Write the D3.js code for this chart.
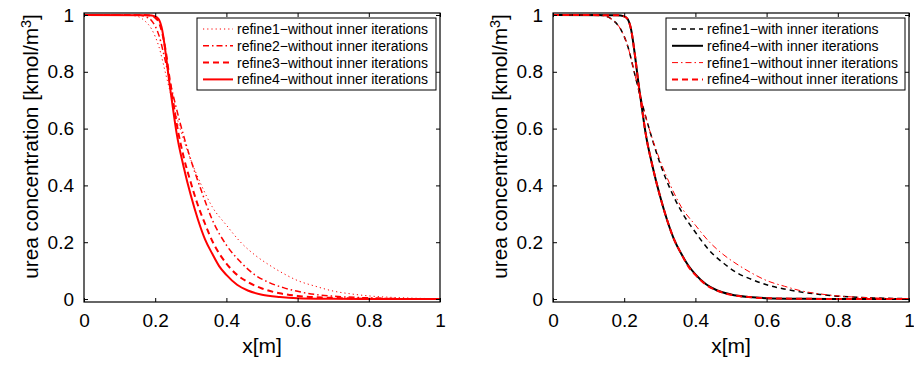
<!DOCTYPE html>
<html>
<head>
<meta charset="utf-8">
<script src="https://cdn.jsdelivr.net/npm/d3@7"></script>
<style>
  body { margin: 0; background: #fff; }
  svg { display: block; font-family: "Liberation Sans", Arial, sans-serif; }
</style>
</head>
<body>
<div id="chart"></div>
<script>
// ── Data ─────────────────────────────────────────────────────
const xTicks = [0, 0.2, 0.4, 0.6, 0.8, 1];
const yTicks = [0, 0.2, 0.4, 0.6, 0.8, 1];

// refine1 (coarse) profiles
const r1X       = [0, 0.12, 0.15, 0.17, 0.19, 0.21, 0.23, 0.25, 0.27, 0.30, 0.33, 0.36, 0.40, 0.44, 0.48, 0.52, 0.56, 0.60, 0.65, 0.70, 0.75, 0.80, 0.90, 1.0];
const r1Without = [1, 1, 0.995, 0.98, 0.95, 0.89, 0.79, 0.69, 0.60, 0.49, 0.40, 0.325, 0.26, 0.20, 0.155, 0.12, 0.09, 0.065, 0.045, 0.028, 0.018, 0.011, 0.004, 0.001];
const r1With    = [1, 1, 0.995, 0.98, 0.95, 0.89, 0.79, 0.69, 0.60, 0.48, 0.385, 0.31, 0.235, 0.17, 0.125, 0.09, 0.068, 0.05, 0.035, 0.024, 0.016, 0.01, 0.004, 0.001];

// refine2
const r2X       = [0, 0.15, 0.17, 0.19, 0.21, 0.23, 0.25, 0.27, 0.30, 0.33, 0.36, 0.40, 0.44, 0.48, 0.52, 0.56, 0.60, 0.65, 0.70, 0.80, 0.90, 1.0];
const r2Without = [1, 1, 0.995, 0.98, 0.93, 0.83, 0.72, 0.62, 0.49, 0.38, 0.28, 0.19, 0.13, 0.085, 0.058, 0.04, 0.027, 0.016, 0.01, 0.004, 0.001, 0];

// refine3
const r3X       = [0, 0.17, 0.19, 0.20, 0.21, 0.22, 0.23, 0.24, 0.25, 0.26, 0.28, 0.30, 0.32, 0.34, 0.36, 0.38, 0.40, 0.43, 0.46, 0.50, 0.55, 0.60, 0.70, 0.80, 1.0];
const r3Without = [1, 1, 0.997, 0.99, 0.975, 0.935, 0.87, 0.78, 0.70, 0.62, 0.50, 0.41, 0.33, 0.265, 0.205, 0.16, 0.125, 0.085, 0.06, 0.037, 0.02, 0.011, 0.004, 0.001, 0];

// refine4 (finest)
const r4X       = [0, 0.18, 0.20, 0.21, 0.22, 0.23, 0.24, 0.25, 0.26, 0.28, 0.30, 0.32, 0.34, 0.36, 0.38, 0.40, 0.43, 0.46, 0.50, 0.55, 0.60, 0.70, 0.80, 1.0];
const r4Without = [1, 0.999, 0.995, 0.985, 0.945, 0.86, 0.76, 0.67, 0.585, 0.465, 0.365, 0.28, 0.21, 0.16, 0.115, 0.085, 0.05, 0.03, 0.015, 0.007, 0.003, 0.001, 0, 0];
const r4With    = [1, 0.999, 0.995, 0.985, 0.945, 0.86, 0.76, 0.67, 0.585, 0.465, 0.365, 0.28, 0.21, 0.16, 0.118, 0.087, 0.052, 0.031, 0.016, 0.007, 0.003, 0.001, 0, 0];

const leftSeries = [
  { name: "refine1\u2212without inner iterations", xs: r1X, ys: r1Without, color: "#ff0000", width: 1,   dash: "1.2,3" },
  { name: "refine2\u2212without inner iterations", xs: r2X, ys: r2Without, color: "#ff0000", width: 1.5, dash: "6,3,1.5,3" },
  { name: "refine3\u2212without inner iterations", xs: r3X, ys: r3Without, color: "#ff0000", width: 2,   dash: "6,4" },
  { name: "refine4\u2212without inner iterations", xs: r4X, ys: r4Without, color: "#ff0000", width: 2,   dash: null }
];

const rightSeries = [
  { name: "refine1\u2212with inner iterations",    xs: r1X, ys: r1With,    color: "#000000", width: 1.5, dash: "5,4" },
  { name: "refine4\u2212with inner iterations",    xs: r4X, ys: r4With,    color: "#000000", width: 2,   dash: null },
  { name: "refine1\u2212without inner iterations", xs: r1X, ys: r1Without, color: "#ff0000", width: 1,   dash: "6,3,1.5,3" },
  { name: "refine4\u2212without inner iterations", xs: r4X, ys: r4Without, color: "#ff0000", width: 2,   dash: "6,4" }
];

// ── Canvas ───────────────────────────────────────────────────
const W = 914, H = 365;
const svg = d3.select("#chart").append("svg")
  .attr("width", W).attr("height", H);

const TOP = 13, BOTTOM = 302;

function drawPanel(id, left, right, series, legendX, legendW, lineLen) {
  const x = d3.scaleLinear().domain([0, 1]).range([left, right]);
  const y = d3.scaleLinear().domain([-0.0105, 1.007]).range([BOTTOM, TOP]);

  const g = svg.append("g");

  g.append("clipPath").attr("id", "clip-" + id)
    .append("rect")
    .attr("x", left).attr("y", TOP)
    .attr("width", right - left).attr("height", BOTTOM - TOP);

  // curves
  const line = d3.line().x(d => x(d[0])).y(d => y(d[1])).curve(d3.curveMonotoneX);
  g.append("g").attr("clip-path", `url(#clip-${id})`)
    .selectAll("path")
    .data(series)
    .enter()
    .append("path")
    .attr("d", s => line(s.xs.map((v, i) => [v, s.ys[i]])))
    .attr("fill", "none")
    .attr("stroke", s => s.color)
    .attr("stroke-width", s => s.width)
    .attr("stroke-dasharray", s => s.dash);

  // MATLAB-style box with inward ticks on every side
  const tickLen = 4;
  const bottomAxis = d3.axisBottom(x).tickValues(xTicks).tickSizeInner(-tickLen).tickSizeOuter(0)
    .tickFormat(d3.format("~g")).tickPadding(12);
  const topAxis = d3.axisTop(x).tickValues(xTicks).tickSizeInner(-tickLen).tickSizeOuter(0).tickFormat("");
  const leftAxis = d3.axisLeft(y).tickValues(yTicks).tickSizeInner(-tickLen).tickSizeOuter(0)
    .tickFormat(d3.format("~g")).tickPadding(10);
  const rightAxis = d3.axisRight(y).tickValues(yTicks).tickSizeInner(-tickLen).tickSizeOuter(0).tickFormat("");

  const axes = [
    g.append("g").attr("transform", `translate(0,${BOTTOM})`).call(bottomAxis),
    g.append("g").attr("transform", `translate(0,${TOP})`).call(topAxis),
    g.append("g").attr("transform", `translate(${left},0)`).call(leftAxis),
    g.append("g").attr("transform", `translate(${right},0)`).call(rightAxis)
  ];
  axes.forEach(a => {
    a.select(".domain").remove();
    a.selectAll("line").attr("stroke", "#000");
    a.selectAll("text").attr("fill", "#000").attr("font-size", "19px")
      .attr("font-family", "'Liberation Sans', Arial, sans-serif");
  });

  g.append("rect")
    .attr("x", left).attr("y", TOP)
    .attr("width", right - left).attr("height", BOTTOM - TOP)
    .attr("fill", "none").attr("stroke", "#000").attr("stroke-width", 1.2);

  // axis labels
  g.append("text")
    .attr("x", (left + right) / 2).attr("y", 353)
    .attr("text-anchor", "middle")
    .attr("font-size", "21px")
    .text("x[m]");

  const yl = g.append("text")
    .attr("transform", `translate(${left - 46},${(TOP + BOTTOM) / 2 - 11}) rotate(-90)`)
    .attr("text-anchor", "middle")
    .attr("font-size", "20.8px");
  yl.append("tspan").text("urea concentration [kmol/m");
  yl.append("tspan").attr("dy", "-0.45em").attr("font-size", "14.5px").text("3");
  yl.append("tspan").attr("dy", "0.3em").text("]");

  // legend
  const lg = g.append("g");
  lg.append("rect")
    .attr("x", legendX).attr("y", 18)
    .attr("width", legendW).attr("height", 72)
    .attr("fill", "#fff").attr("stroke", "#000").attr("stroke-width", 1);

  const rowY = i => 29 + i * 16.8;
  lg.selectAll("line.leg")
    .data(series)
    .enter()
    .append("line")
    .attr("class", "leg")
    .attr("x1", legendX + 6).attr("x2", legendX + 6 + lineLen)
    .attr("y1", (d, i) => rowY(i)).attr("y2", (d, i) => rowY(i))
    .attr("stroke", d => d.color)
    .attr("stroke-width", d => d.width)
    .attr("stroke-dasharray", d => d.dash);

  lg.selectAll("text.leg")
    .data(series)
    .enter()
    .append("text")
    .attr("class", "leg")
    .attr("x", legendX + lineLen + 10)
    .attr("y", (d, i) => rowY(i))
    .attr("dy", "0.35em")
    .attr("font-size", "14px")
    .text(d => d.name);
}

drawPanel("left", 84, 440, leftSeries, 197, 239, 30);
drawPanel("right", 553, 909, rightSeries, 666, 239, 31);
</script>
</body>
</html>
